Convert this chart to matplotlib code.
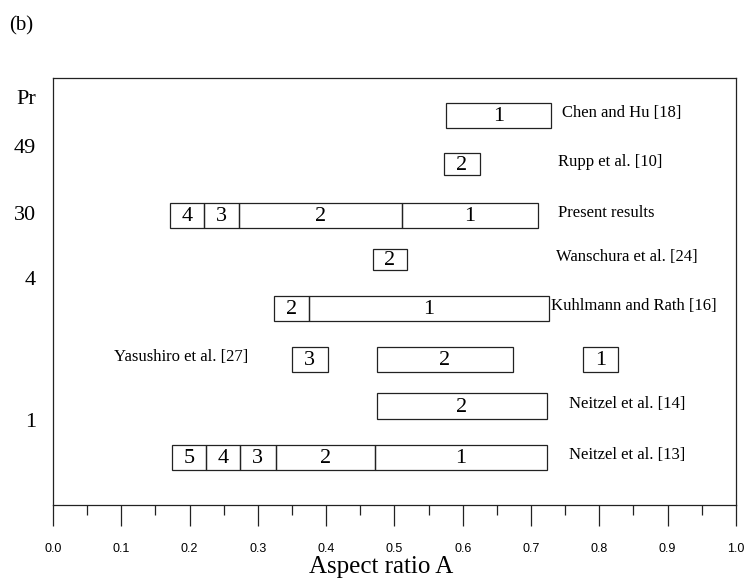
import matplotlib
matplotlib.use('Agg')
import matplotlib.pyplot as plt
from matplotlib.patches import Rectangle
from matplotlib.ticker import MultipleLocator

SERIF = ['Liberation Serif', 'DejaVu Serif']
SANS = ['Liberation Sans', 'DejaVu Sans']

# Each study: boundaries of the aspect-ratio ranges and the mode number
# (wave number) found in each range, from left to right.
studies = [
    'Chen and Hu [18]',
    'Rupp et al. [10]',
    'Present results',
    'Wanschura et al. [24]',
    'Kuhlmann and Rath [16]',
    'Yasushiro et al. [27]',
    'Neitzel et al. [14]',
    'Neitzel et al. [13]',
]
segment_edges = [
    [(0.575, 0.73)],
    [(0.573, 0.625)],
    [(0.172, 0.221), (0.221, 0.272), (0.272, 0.511), (0.511, 0.71)],
    [(0.468, 0.518)],
    [(0.324, 0.375), (0.375, 0.726)],
    [(0.35, 0.402), (0.475, 0.673), (0.776, 0.827)],
    [(0.474, 0.724)],
    [(0.174, 0.224), (0.224, 0.274), (0.274, 0.326), (0.326, 0.472), (0.472, 0.723)],
]
segment_modes = [
    ['1'],
    ['2'],
    ['4', '3', '2', '1'],
    ['2'],
    ['2', '1'],
    ['3', '2', '1'],
    ['2'],
    ['5', '4', '3', '2', '1'],
]
row_pos = [0.0, 1.0, 2.05, 2.95, 3.95, 5.0, 5.95, 7.0]
box_height = [0.52, 0.45, 0.52, 0.45, 0.52, 0.5, 0.52, 0.52]

pr_labels = ['Pr', '49', '30', '4', '1']
pr_pos = [-0.32, 0.68, 2.05, 3.38, 6.28]

fig = plt.figure(figsize=(7.47, 5.8), dpi=100)
ax = fig.add_axes([0.071, 0.129, 0.914, 0.736])

line_col = '#222222'
for i, name in enumerate(studies):
    y = row_pos[i]
    h = box_height[i]
    for (x0, x1), mode in zip(segment_edges[i], segment_modes[i]):
        ax.add_patch(Rectangle((x0, y - h / 2), x1 - x0, h, fill=False,
                               edgecolor=line_col, linewidth=0.9))
        ax.text((x0 + x1) / 2, y + 0.02, mode, ha='center', va='center',
                fontsize=16, family=SERIF)

# study names to the right of the boxes (Yasushiro sits on the left)
name_x = [0.745, 0.739, 0.74, 0.736, 0.729, 0.09, 0.756, 0.756]
for i, name in enumerate(studies):
    ax.text(name_x[i], row_pos[i] - 0.05, name, ha='left', va='center',
            fontsize=12, family=SERIF)

for lab, yp in zip(pr_labels, pr_pos):
    ax.text(-0.025, yp, lab, ha='right', va='center', fontsize=16,
            family=SERIF, transform=ax.get_yaxis_transform())

ax.set_xlim(0, 1.0)
ax.set_ylim(7.98, -0.76)
ax.set_yticks([])
ax.xaxis.set_major_locator(MultipleLocator(0.1))
ax.xaxis.set_minor_locator(MultipleLocator(0.05))
ax.tick_params(axis='x', which='major', direction='out', length=15,
               width=0.9, pad=12, labelsize=9, color=line_col)
ax.tick_params(axis='x', which='minor', direction='out', length=7,
               width=0.9, color=line_col)
ax.set_xticklabels([f'{v:.1f}' for v in ax.get_xticks()], family=SANS)
for s in ax.spines.values():
    s.set_linewidth(0.9)
    s.set_color(line_col)

ax.set_xlabel('Aspect ratio A', fontsize=18, family=SERIF, labelpad=0)
ax.xaxis.set_label_coords(0.481, -0.118)
fig.text(0.012, 0.955, '(b)', fontsize=15, family=SERIF, va='center')

plt.savefig('out.png', dpi=100)
